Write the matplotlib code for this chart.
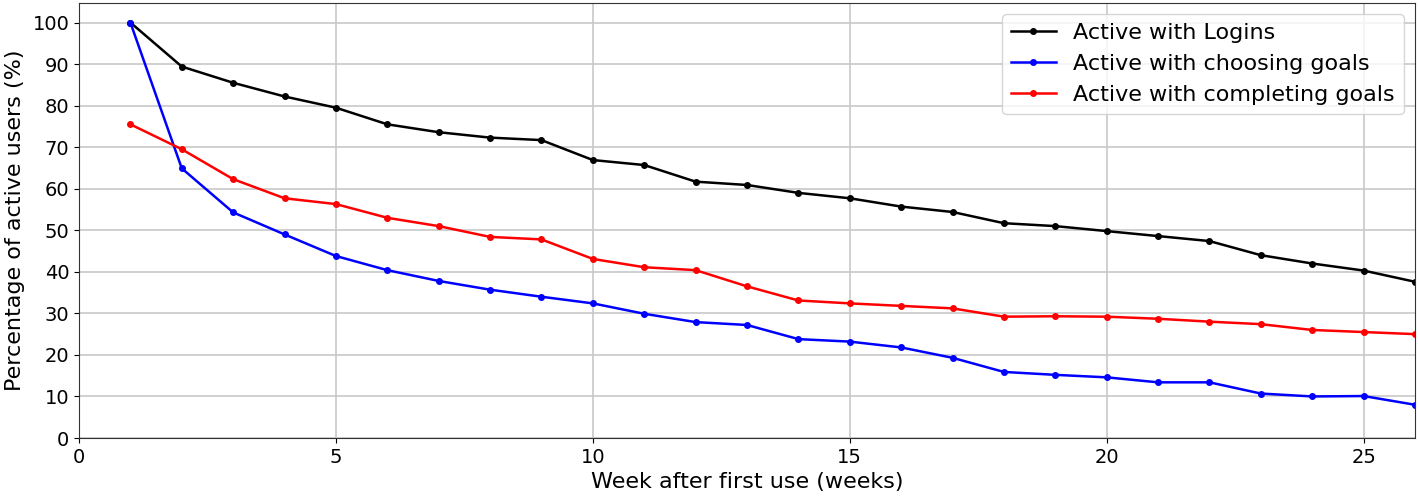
import matplotlib
matplotlib.use("Agg")
import matplotlib.pyplot as plt

weeks = list(range(1, 27))
logins = [100, 89.4, 85.5, 82.2, 79.5, 75.5, 73.6, 72.3, 71.7, 66.9, 65.7, 61.7, 60.9,
          59.0, 57.7, 55.7, 54.4, 51.7, 51.0, 49.8, 48.6, 47.4, 44.0, 42.0, 40.3, 37.6]
choosing = [100, 64.9, 54.3, 49.0, 43.8, 40.4, 37.8, 35.7, 34.0, 32.4, 29.9, 27.9, 27.2,
            23.8, 23.2, 21.8, 19.3, 15.9, 15.2, 14.6, 13.4, 13.4, 10.7, 10.0, 10.1, 8.0]
completing = [75.5, 69.5, 62.3, 57.7, 56.3, 53.0, 51.0, 48.4, 47.8, 43.1, 41.1, 40.4, 36.5,
              33.1, 32.4, 31.8, 31.2, 29.2, 29.3, 29.2, 28.7, 28.0, 27.4, 26.0, 25.5, 25.0]
labels = ["Active with Logins", "Active with choosing goals", "Active with completing goals"]
colors = ["black", "blue", "red"]

fig = plt.figure(figsize=(14.18, 4.98), dpi=100)
ax = fig.add_axes([79/1418, 1-438/498, (1415-79)/1418, (438-3)/498])
for series, lab, col in zip([logins, choosing, completing], labels, colors):
    ax.plot(weeks, series, marker="o", markersize=4, linewidth=1.8, color=col, label=lab)

ax.set_xlim(0, 26)
ax.set_ylim(0, 104.7)
ax.set_xticks([0, 5, 10, 15, 20, 25])
ax.set_yticks(range(0, 101, 10))
ax.tick_params(labelsize=14)
ax.grid(True, color="#c8c8c8", linewidth=1.2)
ax.set_axisbelow(True)
for s in ax.spines.values():
    s.set_color("#333333")
ax.set_xlabel("Week after first use (weeks)", fontsize=16, labelpad=4)
ax.set_ylabel("Percentage of active users (%)", fontsize=16, labelpad=5)
ax.legend(loc="upper right", fontsize=16, handlelength=2, framealpha=0.8)
fig.savefig("out.png", dpi=100)
